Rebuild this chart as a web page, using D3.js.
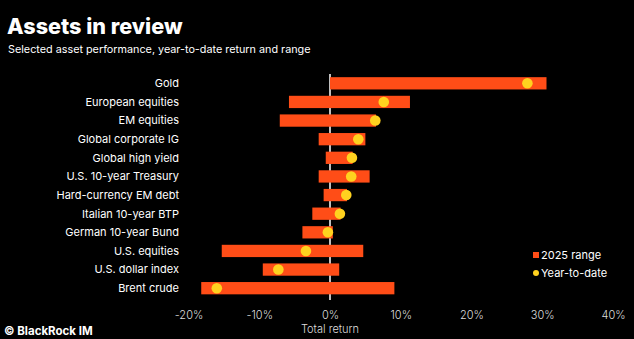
<!DOCTYPE html>
<html>
<head>
<meta charset="utf-8">
<script src="https://cdn.jsdelivr.net/npm/d3@7"></script>
<style>
  body { margin: 0; background: #000; }
  svg { display: block; font-family: Inter, "Noto Sans", sans-serif; }
</style>
</head>
<body>
<div id="chart"></div>
<script>
// asset rows, top to bottom
const assets = ["Gold", "European equities", "EM equities", "Global corporate IG", "Global high yield",
  "U.S. 10-year Treasury", "Hard-currency EM debt", "Italian 10-year BTP", "German 10-year Bund",
  "U.S. equities", "U.S. dollar index", "Brent crude"];
// 2025 low / high of the range (%)
const rangeLow  = [0, -5.8, -7.1, -1.6, -0.6, -1.6, -0.9, -2.5, -3.9, -15.3, -9.5, -18.2];
const rangeHigh = [30.6, 11.3, 6.5, 5.0, 3.2, 5.6, 2.4, 1.5, 0.4, 4.7, 1.3, 9.1];
// year-to-date return (%)
const ytd = [27.9, 7.6, 6.4, 4.0, 3.1, 3.0, 2.3, 1.4, -0.3, -3.4, -7.3, -16.0];
const ticks = [-20, -10, 0, 10, 20, 30, 40];

const width = 634, height = 339;
const orange = "#ff4d17", yellow = "#ffd21f";

const svg = d3.select("#chart").append("svg")
  .attr("width", width).attr("height", height);

svg.append("rect").attr("width", width).attr("height", height).attr("fill", "#000");

// titles
svg.append("text").attr("x", 7).attr("y", 34)
  .attr("fill", "#fff").attr("font-size", 21.6).attr("font-weight", 800)
  .text("Assets in review");
svg.append("text").attr("x", 8).attr("y", 53)
  .attr("fill", "#fff").attr("font-size", 10.8)
  .text("Selected asset performance, year-to-date return and range");

const x = d3.scaleLinear().domain([-20, 40]).range([188.5, 613]);
const y = d3.scaleBand().domain(assets).range([74, 297.5]).paddingInner(0.34).paddingOuter(0.17);

// zero line sits behind the bars
svg.append("line")
  .attr("x1", x(0)).attr("x2", x(0))
  .attr("y1", 74).attr("y2", 300)
  .attr("stroke", "#fff").attr("stroke-width", 1.5);

// row labels
svg.append("g").selectAll("text").data(assets).enter().append("text")
  .attr("x", 179).attr("y", d => y(d) + y.bandwidth() / 2)
  .attr("dy", "0.35em").attr("text-anchor", "end")
  .attr("fill", "#fff").attr("font-size", 11)
  .text(d => d);

// range bars
svg.append("g").selectAll("rect").data(assets).enter().append("rect")
  .attr("x", (d, i) => x(rangeLow[i]))
  .attr("width", (d, i) => x(rangeHigh[i]) - x(rangeLow[i]))
  .attr("y", d => y(d))
  .attr("height", y.bandwidth())
  .attr("fill", orange);

// ytd dots
svg.append("g").selectAll("circle").data(assets).enter().append("circle")
  .attr("cx", (d, i) => x(ytd[i]))
  .attr("cy", d => y(d) + y.bandwidth() / 2)
  .attr("r", 5.3)
  .attr("fill", yellow);

// x axis, labels only
const axis = svg.append("g").attr("transform", "translate(0,316)")
  .call(d3.axisBottom(x).tickValues(ticks).tickFormat(d => d + "%").tickSize(0));
axis.select(".domain").remove();
axis.selectAll("text").attr("fill", "#ddd").attr("font-size", 11)
  .attr("font-family", "Inter, 'Noto Sans', sans-serif").attr("font-weight", 300).attr("dy", "0");

svg.append("text").attr("x", x(0)).attr("y", 333)
  .attr("text-anchor", "middle").attr("fill", "#ddd").attr("font-size", 11).attr("font-weight", 300)
  .text("Total return");

svg.append("text").attr("x", 4).attr("y", 335)
  .attr("fill", "#fff").attr("font-size", 11.5).attr("font-weight", 700)
  .text("© BlackRock IM");

// legend
const lg = svg.append("g").attr("transform", "translate(533,0)");
lg.append("rect").attr("x", 0).attr("y", 252).attr("width", 6).attr("height", 6).attr("fill", orange);
lg.append("text").attr("x", 8).attr("y", 255).attr("dy", "0.35em")
  .attr("fill", "#fff").attr("font-size", 11).text("2025 range");
lg.append("circle").attr("cx", 3).attr("cy", 273).attr("r", 3).attr("fill", yellow);
lg.append("text").attr("x", 8).attr("y", 273).attr("dy", "0.35em")
  .attr("fill", "#fff").attr("font-size", 11).text("Year-to-date");
</script>
</body>
</html>
